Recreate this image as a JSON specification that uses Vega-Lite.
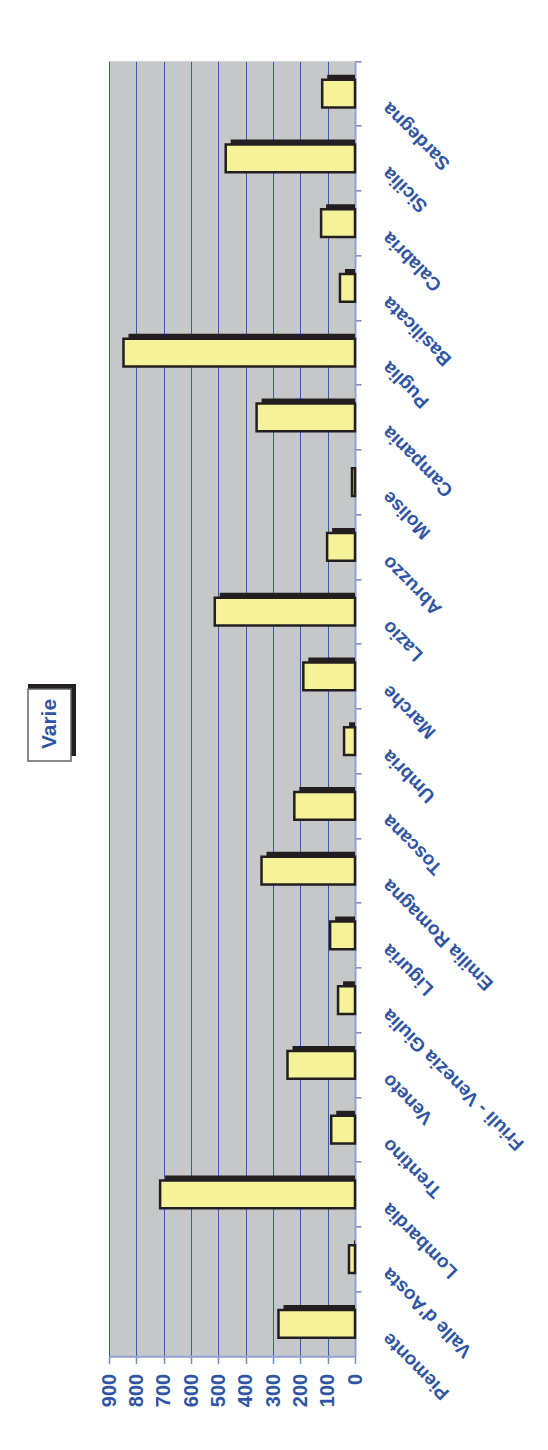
{
  "$schema": "https://vega.github.io/schema/vega-lite/v6.json",
  "background": "white",
  "padding": {"left": 27, "top": 60, "right": 0, "bottom": 0},
  "center": true,
  "spacing": 23,
  "config": {
    "font": "Liberation Sans",
    "view": {"stroke": null}
  },
  "hconcat": [
    {
      "width": 43,
      "height": 90,
      "data": {"values": [{"t": "Varie"}]},
      "layer": [
        {
          "mark": {"type": "rect", "color": "#231F20", "height": 72, "xOffset": 5, "x2Offset": 5, "yOffset": 31},
          "encoding": {}
        },
        {
          "mark": {"type": "rect", "fill": "white", "stroke": "#666666", "strokeWidth": 1.5, "height": 72, "yOffset": 36},
          "encoding": {}
        },
        {
          "mark": {"type": "text", "angle": 270, "fontSize": 21, "fontWeight": "bold", "color": "#2E54A3", "align": "center", "baseline": "middle", "yOffset": -10},
          "encoding": {"text": {"field": "t"}}
        }
      ]
    },
    {
      "width": 246,
      "height": 1295,
      "view": {"fill": "#C6C7C9", "stroke": null},
      "data": {
        "values": [
          {"region": "Sardegna", "value": 120},
          {"region": "Sicilia", "value": 473},
          {"region": "Calabria", "value": 124},
          {"region": "Basilicata", "value": 55},
          {"region": "Puglia", "value": 847},
          {"region": "Campania", "value": 360},
          {"region": "Molise", "value": 11},
          {"region": "Abruzzo", "value": 102},
          {"region": "Lazio", "value": 513},
          {"region": "Marche", "value": 189},
          {"region": "Umbria", "value": 40},
          {"region": "Toscana", "value": 222},
          {"region": "Emilia Romagna", "value": 342},
          {"region": "Liguria", "value": 91},
          {"region": "Friuli - Venezia Giulia", "value": 62},
          {"region": "Veneto", "value": 247},
          {"region": "Trentino", "value": 87},
          {"region": "Lombardia", "value": 713},
          {"region": "Valle d'Aosta", "value": 22},
          {"region": "Piemonte", "value": 280}
        ]
      },
      "encoding": {
        "y": {
          "field": "region", "type": "nominal", "sort": null,
          "scale": {"paddingInner": 0, "paddingOuter": 0},
          "axis": {
            "orient": "right", "title": null, "bandPosition": 0,
            "domainColor": "#8FA3D3", "domainWidth": 2,
            "tickColor": "#6F87C6", "tickSize": 6, "tickWidth": 1.5,
            "labelAngle": 225, "labelAlign": "right", "labelBaseline": "middle",
            "labelPadding": 24, "labelOffset": 12,
            "labelFontSize": 19, "labelFontWeight": "bold", "labelColor": "#2E54A3",
            "labelLimit": 400, "labelOverlap": false, "labelBound": false
          }
        },
        "x": {
          "field": "value", "type": "quantitative",
          "scale": {"domain": [0, 900], "reverse": true, "nice": false},
          "axis": {
            "orient": "bottom", "title": null,
            "values": [0, 100, 200, 300, 400, 500, 600, 700, 800, 900],
            "grid": true, "gridColor": "#3A5CB0", "gridWidth": 1,
            "domainColor": "#8FA3D3", "domainWidth": 2,
            "tickColor": "#6F87C6", "tickSize": 7, "tickWidth": 1.5,
            "labelAngle": -90, "labelAlign": "right", "labelBaseline": "middle",
            "labelPadding": 10, "labelFontSize": 20, "labelFontWeight": "bold",
            "labelColor": "#2E54A3", "labelOverlap": false, "labelFlush": false
          }
        }
      },
      "layer": [
        {
          "mark": {"type": "bar", "color": "#231F20", "height": {"band": 0.43}, "yOffset": -5, "xOffset": 5, "clip": true},
          "encoding": {}
        },
        {
          "mark": {"type": "bar", "fill": "#F6F29A", "stroke": "#231F20", "strokeWidth": 2.5, "height": {"band": 0.43}},
          "encoding": {}
        }
      ]
    }
  ]
}
